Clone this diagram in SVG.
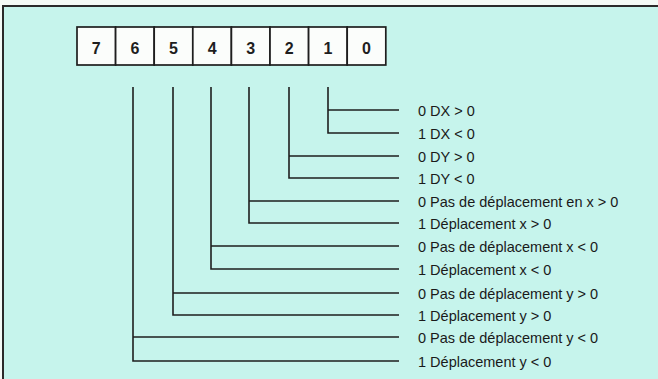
<svg xmlns="http://www.w3.org/2000/svg" width="658" height="379" viewBox="0 0 658 379">
<style>
.bg{fill:#c6f4ec}
.frame{fill:none;stroke:#2a2a2a;stroke-width:2}
.cell{fill:#fbfdfb;stroke:#1e1e1e;stroke-width:1.7}
.dig{font-family:"Liberation Sans",Arial,sans-serif;font-size:16px;font-weight:bold;fill:#1e1e1e;text-anchor:middle}
.lbl{font-family:"Liberation Sans",Arial,sans-serif;font-size:14.5px;fill:#1a1a1a}
.ln{fill:none;stroke:#1e1e1e;stroke-width:1.6}
</style>
<rect x="0" y="0" width="658" height="379" fill="#f4faf6"/>
<rect class="bg" x="3" y="6" width="655" height="373"/>
<path class="frame" d="M3,379 V6 H658"/>
<g id="register">
<rect class="cell" x="77" y="27" width="38.6" height="38"/>
<rect class="cell" x="115.6" y="27" width="38.6" height="38"/>
<rect class="cell" x="154.2" y="27" width="38.6" height="38"/>
<rect class="cell" x="192.8" y="27" width="38.6" height="38"/>
<rect class="cell" x="231.4" y="27" width="38.6" height="38"/>
<rect class="cell" x="270" y="27" width="38.6" height="38"/>
<rect class="cell" x="308.6" y="27" width="38.6" height="38"/>
<rect class="cell" x="347.2" y="27" width="38.6" height="38"/>
<text class="dig" x="96.3" y="53.5">7</text>
<text class="dig" x="134.9" y="53.5">6</text>
<text class="dig" x="173.5" y="53.5">5</text>
<text class="dig" x="212.1" y="53.5">4</text>
<text class="dig" x="250.7" y="53.5">3</text>
<text class="dig" x="289.3" y="53.5">2</text>
<text class="dig" x="327.9" y="53.5">1</text>
<text class="dig" x="366.5" y="53.5">0</text>
</g>
<g id="connectors">
<path class="ln" d="M328,87 V133 H399 M328,110 H399"/>
<path class="ln" d="M289,87 V178 H399 M289,156 H399"/>
<path class="ln" d="M249,87 V223 H399 M249,201 H399"/>
<path class="ln" d="M211,87 V269 H399 M211,246 H399"/>
<path class="ln" d="M173,87 V315 H399 M173,293 H399"/>
<path class="ln" d="M133,87 V361 H399 M133,337 H399"/>
</g>
<g id="labels">
<text class="lbl" x="418" y="115.5">0 DX &gt; 0</text>
<text class="lbl" x="418" y="138.5">1 DX &lt; 0</text>
<text class="lbl" x="418" y="161.5">0 DY &gt; 0</text>
<text class="lbl" x="418" y="183.5">1 DY &lt; 0</text>
<text class="lbl" x="418" y="206.5">0 Pas de déplacement en x &gt; 0</text>
<text class="lbl" x="418" y="228.5">1 Déplacement x &gt; 0</text>
<text class="lbl" x="418" y="251.5">0 Pas de déplacement x &lt; 0</text>
<text class="lbl" x="418" y="274.5">1 Déplacement x &lt; 0</text>
<text class="lbl" x="418" y="298.5">0 Pas de déplacement y &gt; 0</text>
<text class="lbl" x="418" y="320.5">1 Déplacement y &gt; 0</text>
<text class="lbl" x="418" y="342.5">0 Pas de déplacement y &lt; 0</text>
<text class="lbl" x="418" y="366.5">1 Déplacement y &lt; 0</text>
</g>
</svg>
